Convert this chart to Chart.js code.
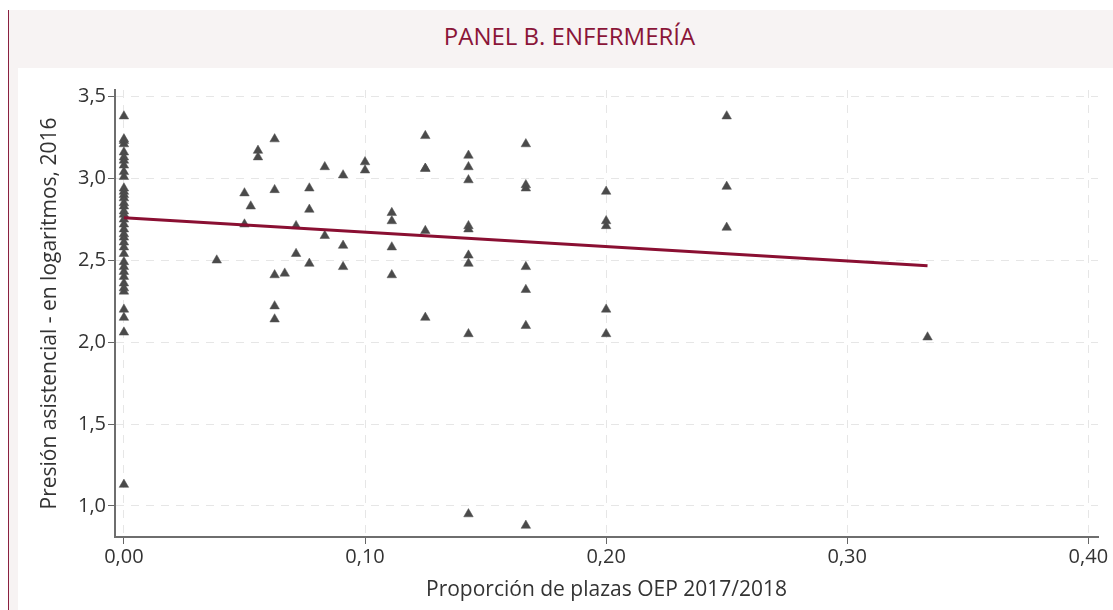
<!DOCTYPE html>
<html lang="es">
<head>
    <meta charset="UTF-8">
    <title>Panel B. Enfermería</title>
    <script src="https://cdn.jsdelivr.net/npm/chart.js"></script>
    <style>
        body { margin: 0; background: #fff; width: 1113px; height: 610px; overflow: hidden; font-family: "Open Sans", sans-serif; }
        #marco { position: absolute; left: 8px; top: 10px; width: 1105px; height: 600px; background: #f7f3f3; border-left: 1px solid #8a2040; }
        #titulo { height: 58px; line-height: 52px; text-align: center; color: #8a1538; font-size: 24px; padding-left: 16px; box-sizing: border-box; }
        #panel { position: absolute; left: 9px; top: 58px; width: 1096px; height: 542px; background: #fff; }
    </style>
</head>
<body>
    <div id="marco">
        <div id="titulo">PANEL B. ENFERMERÍA</div>
        <div id="panel"><canvas id="grafico" width="1096" height="542"></canvas></div>
    </div>

    <script>
        // proporción de plazas OEP y presión asistencial (log)
        const xPlazas = [
            0, 0, 0, 0, 0, 0, 0, 0, 0, 0, 0, 0, 0, 0, 0, 0, 0, 0, 0, 0, 0, 0, 0, 0, 0, 0, 0, 0, 0, 0, 0, 0, 0, 0, 0, 0, 0,
            0.0385, 0.05, 0.05, 0.0526,
            0.0556, 0.0556,
            0.0625, 0.0625, 0.0625, 0.0625, 0.0625,
            0.0667,
            0.0714, 0.0714,
            0.0769, 0.0769, 0.0769,
            0.0833, 0.0833,
            0.0909, 0.0909, 0.0909,
            0.1, 0.1,
            0.1111, 0.1111, 0.1111, 0.1111,
            0.125, 0.125, 0.125, 0.125, 0.125,
            0.1429, 0.1429, 0.1429, 0.1429, 0.1429, 0.1429, 0.1429, 0.1429, 0.1429,
            0.1667, 0.1667, 0.1667, 0.1667, 0.1667, 0.1667, 0.1667,
            0.2, 0.2, 0.2, 0.2, 0.2,
            0.25, 0.25, 0.25,
            0.3333
        ];
        const yPresion = [
            3.38, 3.24, 3.23, 3.21, 3.16, 3.13, 3.11, 3.08, 3.04, 3.01, 2.94, 2.92, 2.90, 2.88, 2.85, 2.83, 2.80, 2.78, 2.75,
            2.72, 2.69, 2.66, 2.64, 2.61, 2.58, 2.54, 2.49, 2.46, 2.43, 2.40, 2.36, 2.33, 2.31, 2.20, 2.15, 2.06, 1.13,
            2.50, 2.91, 2.72, 2.83,
            3.17, 3.13,
            3.24, 2.93, 2.41, 2.22, 2.14,
            2.42,
            2.71, 2.54,
            2.94, 2.81, 2.48,
            3.07, 2.65,
            3.02, 2.59, 2.46,
            3.10, 3.05,
            2.79, 2.74, 2.58, 2.41,
            3.26, 3.06, 3.06, 2.68, 2.15,
            3.14, 3.07, 2.99, 2.71, 2.69, 2.53, 2.48, 2.05, 0.95,
            3.21, 2.96, 2.94, 2.46, 2.32, 2.10, 0.88,
            2.92, 2.74, 2.71, 2.20, 2.05,
            3.38, 2.95, 2.70,
            2.03
        ];

        // recta de ajuste
        const ajusteX = [0, 0.3333];
        const ajusteY = [2.76, 2.466];

        const xTicks = [0, 0.1, 0.2, 0.3, 0.4];
        const yTicks = [1.0, 1.5, 2.0, 2.5, 3.0, 3.5];

        const puntos = xPlazas.map((x, i) => ({ x: x, y: yPresion[i] }));
        const recta = ajusteX.map((x, i) => ({ x: x, y: ajusteY[i] }));

        const fuenteTicks = { family: '"Open Sans", sans-serif', size: 20 };
        const fuenteTitulo = { family: '"Open Sans", sans-serif', size: 21 };
        const coma = (v, d) => v.toFixed(d).replace('.', ',');

        const rejilla = {
            color: '#e6e6e6', lineWidth: 1,
            tickColor: '#666', tickLength: 7, tickWidth: 1, tickBorderDash: []
        };
        const borde = { color: '#6e6e6e', width: 2, dash: [8, 7] };

        const ctx = document.getElementById('grafico').getContext('2d');
        const grafico = new Chart(ctx, {
            type: 'scatter',
            data: {
                datasets: [
                    {
                        type: 'line',
                        data: recta,
                        borderColor: '#8a0f32',
                        borderWidth: 3,
                        pointRadius: 0,
                        fill: false,
                        order: 0
                    },
                    {
                        data: puntos,
                        pointStyle: 'triangle',
                        pointRadius: 5.5,
                        backgroundColor: '#4a4a4a',
                        borderColor: '#555555',
                        borderWidth: 0.5,
                        order: 1
                    }
                ]
            },
            options: {
                responsive: false,
                animation: false,
                layout: { padding: { top: 22, right: 16, left: 0, bottom: 0 } },
                plugins: { legend: { display: false }, tooltip: { enabled: false } },
                scales: {
                    x: {
                        type: 'linear',
                        min: -0.0037,
                        max: 0.404,
                        afterBuildTicks: s => { s.ticks = xTicks.map(v => ({ value: v })); },
                        afterFit: s => { s.height = 73; s.paddingLeft = 0; s.paddingRight = 0; },
                        ticks: { callback: v => coma(v, 2), color: '#333', font: fuenteTicks, padding: 1, maxRotation: 0 },
                        grid: rejilla,
                        border: borde,
                        title: {
                            display: true, text: 'Proporción de plazas OEP 2017/2018',
                            color: '#333', font: fuenteTitulo, padding: { top: 0, bottom: 7 }
                        }
                    },
                    y: {
                        type: 'linear',
                        min: 0.81,
                        max: 3.54,
                        afterBuildTicks: s => { s.ticks = yTicks.map(v => ({ value: v })); },
                        afterFit: s => { s.width = 97; s.paddingTop = 0; s.paddingBottom = 0; },
                        ticks: { callback: v => coma(v, 1), color: '#333', font: fuenteTicks, padding: 2 },
                        grid: rejilla,
                        border: borde,
                        title: {
                            display: true, text: 'Presión asistencial - en logaritmos, 2016',
                            color: '#333', font: fuenteTitulo, padding: { top: 19, bottom: 0 }
                        }
                    }
                }
            }
        });
    </script>
</body>
</html>
